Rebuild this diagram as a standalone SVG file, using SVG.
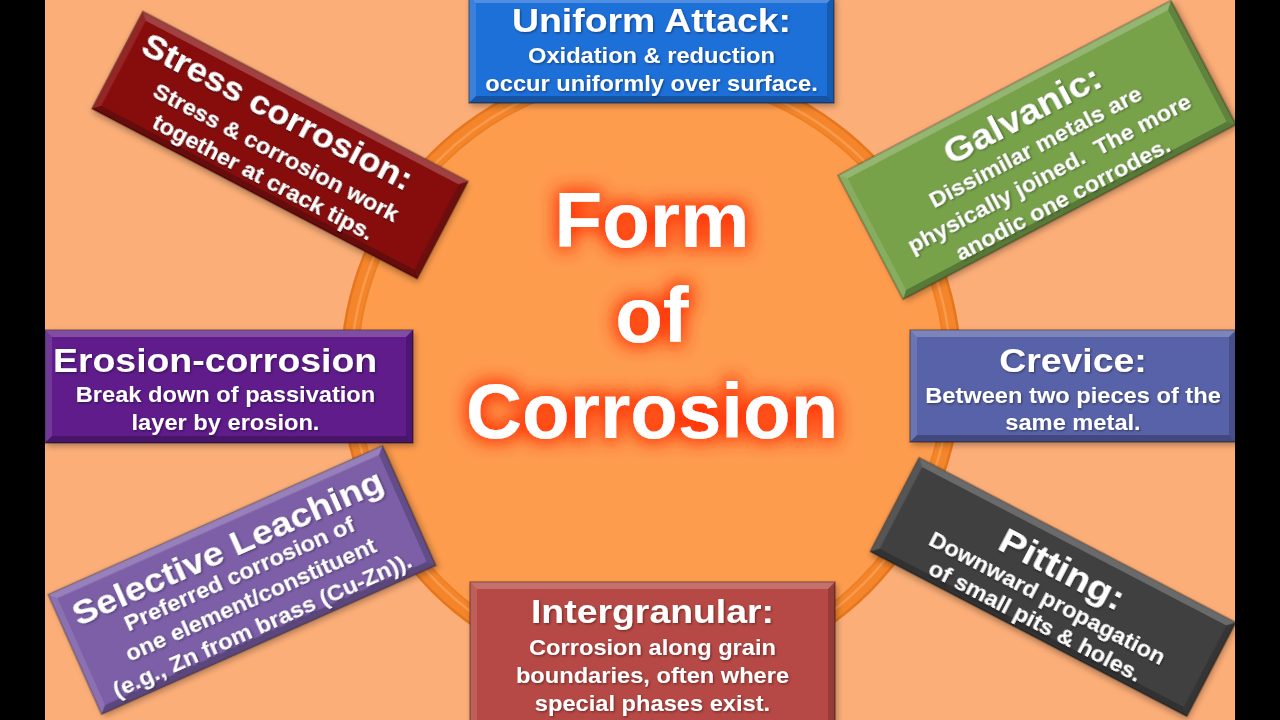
<svg xmlns="http://www.w3.org/2000/svg" width="1280" height="720" viewBox="0 0 1280 720">
<defs>
<style>
.box{stroke:#000;stroke-opacity:.35;stroke-width:1.5}
.bt{fill:#fff;fill-opacity:.22}
.bl{fill:#fff;fill-opacity:.12}
.bb{fill:#000;fill-opacity:.25}
.br{fill:#000;fill-opacity:.18}
.t{font-family:"Liberation Sans",Arial,sans-serif;font-weight:bold;fill:#fff;text-anchor:middle}
.b{font-size:21.5px}
.h{font-size:34px}
.big{font-family:"Liberation Sans",Arial,sans-serif;font-weight:bold;fill:#fff;text-anchor:middle;font-size:78px}
</style>
<filter id="sh" x="-10%" y="-10%" width="125%" height="130%">
<feDropShadow dx="2" dy="3" stdDeviation="3" flood-color="#000" flood-opacity=".3"/>
</filter>
<filter id="ts" x="-5%" y="-20%" width="110%" height="140%">
<feDropShadow dx="1" dy="1.2" stdDeviation=".8" flood-color="#000" flood-opacity=".4"/>
</filter>
<filter id="glow" x="-30%" y="-40%" width="160%" height="180%">
<feMorphology in="SourceAlpha" operator="dilate" radius="3" result="d"/>
<feGaussianBlur in="d" stdDeviation="9" result="bl"/>
<feFlood flood-color="#FF2C00"/>
<feComposite in2="bl" operator="in" result="g"/>
<feMerge><feMergeNode in="g"/><feMergeNode in="SourceGraphic"/></feMerge>
</filter>
</defs>

<rect x="0" y="0" width="1280" height="720" fill="#FCAE78"/>

<g id="center">
<circle cx="651" cy="372" r="311" fill="#E5761E"/>
<circle cx="651" cy="372" r="308.5" fill="#F4852A"/>
<circle cx="651" cy="372" r="300" fill="none" stroke="#FBA25A" stroke-width="2.5" stroke-opacity=".75"/>
<circle cx="651" cy="372" r="294" fill="#FE9C4E" stroke="#EC8026" stroke-width="2"/>
<g filter="url(#glow)">
<text class="big" x="652" y="247">Form</text>
<text class="big" x="652" y="342">of</text>
<text class="big" x="652" y="438">Corrosion</text>
</g>
</g>

<g id="connectors"/>

<g id="uniform" transform="translate(651.5,49.5)" filter="url(#sh)">
<rect class="box" x="-182.5" y="-53.5" width="365" height="107" fill="#1F6FD8"/>
<path class="bt" d="M-182.5,-53.5H182.5L175.5,-46.5H-175.5Z"/>
<path class="bl" d="M-182.5,-53.5L-175.5,-46.5V46.5L-182.5,53.5Z"/>
<path class="bb" d="M-182.5,53.5L-175.5,46.5H175.5L182.5,53.5Z"/>
<path class="br" d="M182.5,-53.5V53.5L175.5,46.5V-46.5Z"/>
<g transform="scale(1.1,1)" filter="url(#ts)">
<text class="t h" x="0" y="-17.5">Uniform Attack:</text>
<text class="t b" x="0" y="13.5">Oxidation &amp; reduction</text>
<text class="t b" x="0" y="41.5">occur uniformly over surface.</text>
</g>
</g>

<g id="stress" transform="translate(280,145) rotate(27.6)" filter="url(#sh)">
<rect class="box" x="-183.5" y="-55" width="367" height="110" fill="#870A0A"/>
<path class="bt" d="M-183.5,-55H183.5L176.5,-48H-176.5Z"/>
<path class="bl" d="M-183.5,-55L-176.5,-48V48L-183.5,55Z"/>
<path class="bb" d="M-183.5,55L-176.5,48H176.5L183.5,55Z"/>
<path class="br" d="M183.5,-55V55L176.5,48V-48Z"/>
<g transform="scale(1.1,1)" filter="url(#ts)">
<text class="t" style="font-size:33px" x="-16" y="-17">Stress corrosion:</text>
<text class="t b" x="0" y="16">Stress &amp; corrosion work</text>
<text class="t b" x="0" y="44">together at crack tips.</text>
</g>
</g>

<g id="galvanic" transform="translate(1037,150) rotate(-27.7)" filter="url(#sh)">
<rect class="box" x="-188" y="-70" width="376" height="140" fill="#77A24A"/>
<path class="bt" d="M-188,-70H188L181,-63H-181Z"/>
<path class="bl" d="M-188,-70L-181,-63V63L-188,70Z"/>
<path class="bb" d="M-188,70L-181,63H181L188,70Z"/>
<path class="br" d="M188,-70V70L181,63V-63Z"/>
<g transform="scale(1.1,1)" filter="url(#ts)">
<text class="t" style="font-size:35px" x="3" y="-26">Galvanic:</text>
<text class="t b" x="0" y="4">Dissimilar metals are</text>
<text class="t b" x="0" y="34" xml:space="preserve" style="white-space:pre">physically joined.  The more</text>
<text class="t b" x="0" y="63">anodic one corrodes.</text>
</g>
</g>

<g id="erosion" transform="translate(229,386.5)" filter="url(#sh)">
<rect class="box" x="-184" y="-56.5" width="368" height="113" fill="#5E1C8A"/>
<path class="bt" d="M-184,-56.5H184L177,-49.5H-177Z"/>
<path class="bl" d="M-184,-56.5L-177,-49.5V49.5L-184,56.5Z"/>
<path class="bb" d="M-184,56.5L-177,49.5H177L184,56.5Z"/>
<path class="br" d="M184,-56.5V56.5L177,49.5V-49.5Z"/>
<g transform="scale(1.1,1)" filter="url(#ts)">
<text class="t h" style="text-anchor:start" x="-160" y="-14.5">Erosion-corrosion</text>
<text class="t b" x="-3.2" y="15.5">Break down of passivation</text>
<text class="t b" x="-3.2" y="43.5">layer by erosion.</text>
</g>
</g>

<g id="crevice" transform="translate(1073,386)" filter="url(#sh)">
<rect class="box" x="-163" y="-56" width="326" height="112" fill="#5862A8"/>
<path class="bt" d="M-163,-56H163L156,-49H-156Z"/>
<path class="bl" d="M-163,-56L-156,-49V49L-163,56Z"/>
<path class="bb" d="M-163,56L-156,49H156L163,56Z"/>
<path class="br" d="M163,-56V56L156,49V-49Z"/>
<g transform="scale(1.1,1)" filter="url(#ts)">
<text class="t h" x="0" y="-14">Crevice:</text>
<text class="t b" x="0" y="17">Between two pieces of the</text>
<text class="t b" x="0" y="44">same metal.</text>
</g>
</g>

<g id="selective" transform="translate(242,580) rotate(-24)" filter="url(#sh)">
<rect class="box" x="-183" y="-65.5" width="366" height="131" fill="#7B5EA7"/>
<path class="bt" d="M-183,-65.5H183L176,-58.5H-176Z"/>
<path class="bl" d="M-183,-65.5L-176,-58.5V58.5L-183,65.5Z"/>
<path class="bb" d="M-183,65.5L-176,58.5H176L183,65.5Z"/>
<path class="br" d="M183,-65.5V65.5L176,58.5V-58.5Z"/>
<g transform="scale(1.1,1)" filter="url(#ts)">
<text class="t h" x="0" y="-24">Selective Leaching</text>
<text class="t b" x="0" y="1">Preferred corrosion of</text>
<text class="t b" x="0" y="29">one element/constituent</text>
<text class="t b" x="0" y="57">(e.g., Zn from brass (Cu-Zn)).</text>
</g>
</g>

<g id="pitting" transform="translate(1053,587) rotate(27.5)" filter="url(#sh)">
<rect class="box" x="-178.5" y="-53" width="357" height="106" fill="#404040"/>
<path class="bt" d="M-178.5,-53H178.5L171.5,-46H-171.5Z"/>
<path class="bl" d="M-178.5,-53L-171.5,-46V46L-178.5,53Z"/>
<path class="bb" d="M-178.5,53L-171.5,46H171.5L178.5,53Z"/>
<path class="br" d="M178.5,-53V53L171.5,46V-46Z"/>
<g transform="scale(1.1,1)" filter="url(#ts)">
<text class="t" style="font-size:36px" x="0" y="-8">Pitting:</text>
<text class="t b" x="0" y="20">Downward propagation</text>
<text class="t b" x="0" y="46">of small pits &amp; holes.</text>
</g>
</g>

<g id="intergranular" transform="translate(652.5,663.5)" filter="url(#sh)">
<rect class="box" x="-182.5" y="-81.5" width="365" height="163" fill="#B64844"/>
<path class="bt" d="M-182.5,-81.5H182.5L175.5,-74.5H-175.5Z"/>
<path class="bl" d="M-182.5,-81.5L-175.5,-74.5V74.5L-182.5,81.5Z"/>
<path class="bb" d="M-182.5,81.5L-175.5,74.5H175.5L182.5,81.5Z"/>
<path class="br" d="M182.5,-81.5V81.5L175.5,74.5V-74.5Z"/>
<g transform="scale(1.1,1)" filter="url(#ts)">
<text class="t h" x="0" y="-40.5">Intergranular:</text>
<text class="t b" x="0" y="-8.5">Corrosion along grain</text>
<text class="t b" x="0" y="19.5">boundaries, often where</text>
<text class="t b" x="0" y="47.5">special phases exist.</text>
</g>
</g>

<rect x="0" y="0" width="45" height="720" fill="#000"/>
<rect x="1235" y="0" width="45" height="720" fill="#000"/>
</svg>
